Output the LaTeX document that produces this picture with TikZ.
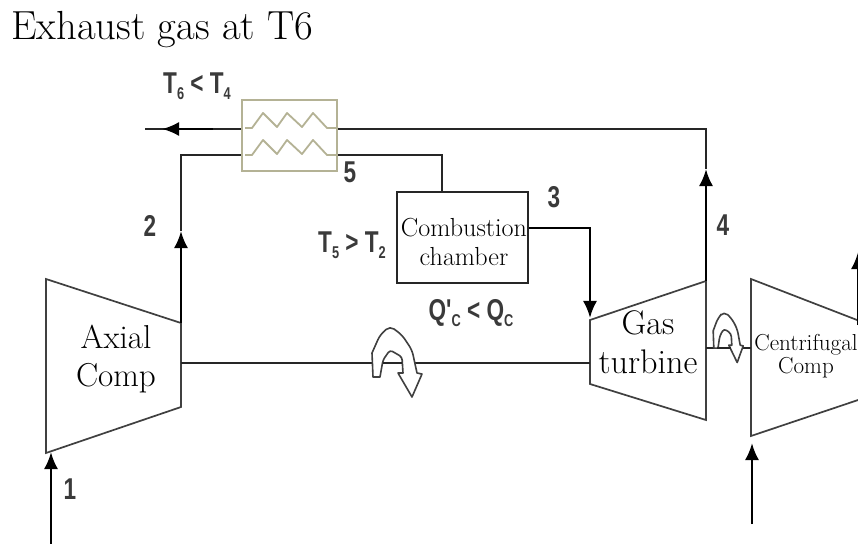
\documentclass[tikz,border=0pt]{standalone}
\usepackage{fontspec}
\usepackage{tikz}
\usetikzlibrary{arrows.meta}
\newfontfamily\handfont{Liberation Sans}
\newcommand{\lowsub}[1]{\raisebox{-0.4ex}{\fontsize{17}{17}\selectfont #1}}
\definecolor{coil}{HTML}{B4B295}
\definecolor{handgray}{HTML}{3A3A3A}
\tikzset{
	pipe/.style={draw=black!85, line width=1.7pt},
	flow/.style={draw=black, line width=2.7pt, -{Latex[length=6mm,width=5mm]}},
	casing/.style={draw=black!75, line width=1.7pt},
	handlabel/.style={text=handgray, font=\handfont\bfseries\fontsize{30}{30}\selectfont, xscale=0.75, transform shape, inner sep=0pt},
	serif/.style={font=\fontsize{#1}{#1}\selectfont, align=center, inner sep=0pt},
	rotarrow/.pic={
		\draw[draw=black!75, fill=white, line width=1.6pt, line join=round] (-17,14) -- (-18,-10) [rounded corners=5pt] -- (-10,-28) -- (0,-37) -- (12,-28) -- (22,-13) [sharp corners] -- (27,10) -- (32,11) -- (22,34) -- (8,10) -- (13,10) [rounded corners=3pt] -- (12,-6) -- (0,-13) -- (-7,-3) [sharp corners] -- (-10,14) -- cycle;
	},
}
\begin{document}
\begin{tikzpicture}[x=0.035cm, y=-0.035cm]
	\useasboundingbox (0,0) rectangle (858,544);
	\node[serif=40.5, anchor=west] (title) at (11,30) {Exhaust gas at T6};
	% compressor, turbine, chamber
	\draw[casing] (46,279) coordinate (axtl) -- (181,323) coordinate (axtr) -- (181,407) coordinate (axbr) -- (46,453) coordinate (axbl) -- cycle;
	\draw[casing] (590,320) coordinate (gttl) -- (706,281) coordinate (gttr) -- (706,420) coordinate (gtbr) -- (590,384) coordinate (gtbl) -- cycle;
	\draw[casing] (751,279) coordinate (cctl) -- (870,325) coordinate (cctr) -- (870,396) coordinate (ccbr) -- (751,436) coordinate (ccbl) -- cycle;
	\node[serif=33] (axial) at (116,359) {Axial\\[4pt]Comp};
	\node[serif=34] (gas) at (648,342) {Gas\\[5pt]turbine};
	\node[serif=23] (centri) at (806,356) {Centrifugal\\[0pt]Comp};
	\node[pipe, minimum width=4.585cm, minimum height=3.185cm, inner sep=0pt] (chamber) at (462.5,237.5) {};
	\node[serif=26] (chlabel) at (464,242) {Combustion\\[3pt]chamber};
	% recuperator
	\node[draw=coil, line width=1.8pt, minimum width=3.325cm, minimum height=2.485cm, inner sep=0pt] (recup) at (289.5,135.5) {};
	\foreach \y in {0,27} {
		\draw[draw=coil, line width=1.8pt, line join=round] (245,128+\y) -- (252,128+\y) -- (263,113+\y) -- (277,127+\y) -- (287,113+\y) -- (302,127+\y) -- (313,113+\y) -- (327,128+\y) -- (338,128+\y);
	}
	\coordinate (hxoutw) at (241,129);
	\coordinate (hxoute) at (338,129);
	\coordinate (hxinw) at (241,155);
	\coordinate (hxine) at (338,155);
	\coordinate (exend) at (145,129);
	\coordinate (extip) at (162,129);
	\coordinate (exbase) at (213,129);
	\coordinate (topcorner) at (706,129);
	\coordinate (fourtip) at (706,169);
	\coordinate (twotip) at (181,231);
	\coordinate (leftcorner) at (181,155);
	\coordinate (feedcorner) at (442,155);
	\coordinate (gtcorner) at (590,228);
	\coordinate (gtin) at (590,318);
	% pipes
	\draw[pipe] (hxoutw) -- (exend);
	\draw[flow] (exbase) -- (extip);
	\draw[pipe] (hxoute) -- (topcorner) -- (fourtip);
	\draw[flow] (gttr) -- (fourtip);
	\draw[pipe] (twotip) -- (leftcorner) -- (hxinw);
	\draw[flow] (axtr) -- (twotip);
	\draw[pipe] (hxine) -- (feedcorner) -- (feedcorner |- chamber.north);
	\draw[flow] (chamber.east |- gtcorner) -- (gtcorner) -- (gtin);
	% shafts
	\coordinate (shaftw) at (181,363);
	\coordinate (shafte) at (590,363);
	\coordinate (minw) at (706,348);
	\coordinate (mine) at (751,348);
	\draw[pipe] (shaftw) -- (shafte);
	\draw[pipe] (minw) -- (mine);
	\pic at (390,363) {rotarrow};
	\pic[xscale=0.6, yscale=0.72] at (724,338) {rotarrow};
	\draw[pipe] (383,363) -- (402,363);
	\draw[pipe] (717,348) -- (731,348);
	% inlets
	\coordinate (inax) at (51,544);
	\coordinate (tipax) at (51,452);
	\coordinate (incc) at (752,524);
	\coordinate (tipcc) at (752,443);
	\coordinate (outcc) at (858,325);
	\coordinate (tipout) at (858,252);
	\draw[flow] (inax) -- (tipax);
	\draw[flow] (incc) -- (tipcc);
	\draw[flow] (outcc) -- (tipout);
	% labels
	\node[handlabel] (one) at (70,489) {1};
	\node[handlabel] (two) at (150,226) {2};
	\node[handlabel] (three) at (554,197) {3};
	\node[handlabel] (four) at (723,225) {4};
	\node[handlabel] (five) at (350,172) {5};
	\node[handlabel] (tsix) at (197,86) {T\lowsub{6} < T\lowsub{4}};
	\node[handlabel] (tfive) at (352,245) {T\lowsub{5} > T\lowsub{2}};
	\node[handlabel] (qc) at (471,313) {Q'\lowsub{C} < Q\lowsub{C}};
\end{tikzpicture}
\end{document}
